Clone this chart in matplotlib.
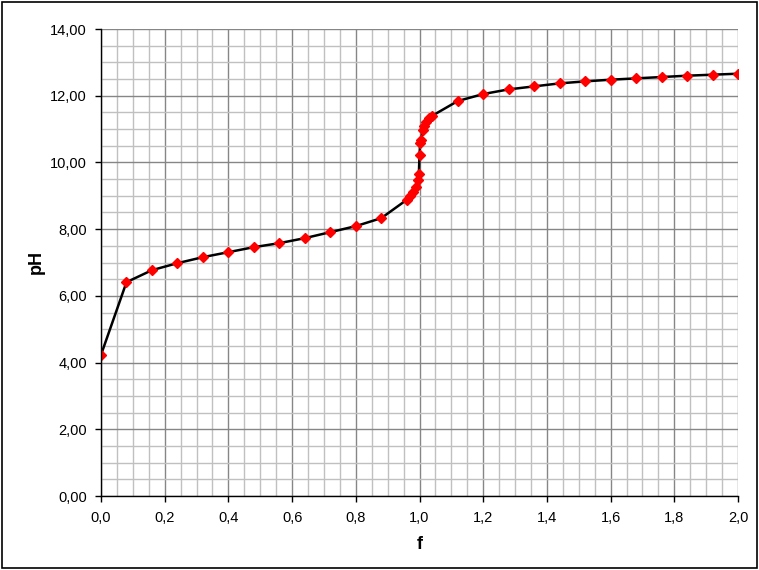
import numpy as np
import matplotlib
matplotlib.use("Agg")
import matplotlib.pyplot as plt
import matplotlib.ticker as ticker
from matplotlib.patches import Rectangle

plt.rcParams['font.family'] = ['Liberation Sans', 'DejaVu Sans']

# titration curve: fraction titrated f vs pH
f = [0.00, 0.08, 0.16, 0.24, 0.32, 0.40, 0.48, 0.56, 0.64, 0.72, 0.80, 0.88,
     0.96, 0.97, 0.98, 0.99, 0.995, 0.998, 1.000, 1.002, 1.005, 1.010,
     1.015, 1.020, 1.030, 1.040,
     1.12, 1.20, 1.28, 1.36, 1.44, 1.52, 1.60, 1.68, 1.76, 1.84, 1.92, 2.00]
pH = [4.23, 6.41, 6.77, 6.98, 7.16, 7.31, 7.46, 7.58, 7.73, 7.91, 8.09, 8.33,
      8.88, 8.98, 9.10, 9.25, 9.47, 9.66, 10.22, 10.57, 10.67, 10.97,
      11.08, 11.20, 11.32, 11.40,
      11.84, 12.05, 12.19, 12.28, 12.37, 12.43, 12.48, 12.52, 12.56, 12.60, 12.63, 12.66]

xticks = [0.0, 0.2, 0.4, 0.6, 0.8, 1.0, 1.2, 1.4, 1.6, 1.8, 2.0]
yticks = [0, 2, 4, 6, 8, 10, 12, 14]

fig = plt.figure(figsize=(7.59, 5.70), dpi=100)
ax = fig.add_axes([101/759, 74/570, 637/759, 467/570])

ax.plot(f, pH, color='black', lw=1.8, zorder=3)
ax.plot(f, pH, ls='none', marker='D', ms=5, mfc='#ff0000', mec='#ff0000', zorder=4)

ax.set_xlim(0, 2.0)
ax.set_ylim(0, 14)
ax.set_xticks(xticks)
ax.set_yticks(yticks)
ax.xaxis.set_minor_locator(ticker.MultipleLocator(0.05))
ax.yaxis.set_minor_locator(ticker.MultipleLocator(0.5))
ax.xaxis.set_major_formatter(ticker.FuncFormatter(lambda v, p: ('%.1f' % v).replace('.', ',')))
ax.yaxis.set_major_formatter(ticker.FuncFormatter(lambda v, p: ('%.2f' % v).replace('.', ',')))

ax.grid(which='minor', color='#c0c0c0', lw=1.0, zorder=0)
ax.grid(which='major', color='#868686', lw=1.0, zorder=1)
ax.set_axisbelow(True)

for s in ['top', 'right']:
    ax.spines[s].set_visible(False)
for s in ['left', 'bottom']:
    ax.spines[s].set_color('black')
    ax.spines[s].set_linewidth(1.0)
    ax.spines[s].set_zorder(5)

ax.tick_params(which='major', direction='out', length=4, width=1, labelsize=10.5, colors='black')
ax.tick_params(which='minor', length=0)
ax.tick_params(axis='y', pad=6)
ax.tick_params(axis='x', pad=7)

ax.set_xlabel('f', fontsize=13, fontweight='bold', labelpad=8)
ax.set_ylabel('pH', fontsize=13, fontweight='bold', labelpad=4)

fig.patches.append(Rectangle((1.5/759, 2/570), 755.5/759, 566/570, transform=fig.transFigure,
                             fill=False, edgecolor='black', lw=1.2))

fig.savefig('out.png', dpi=100)
